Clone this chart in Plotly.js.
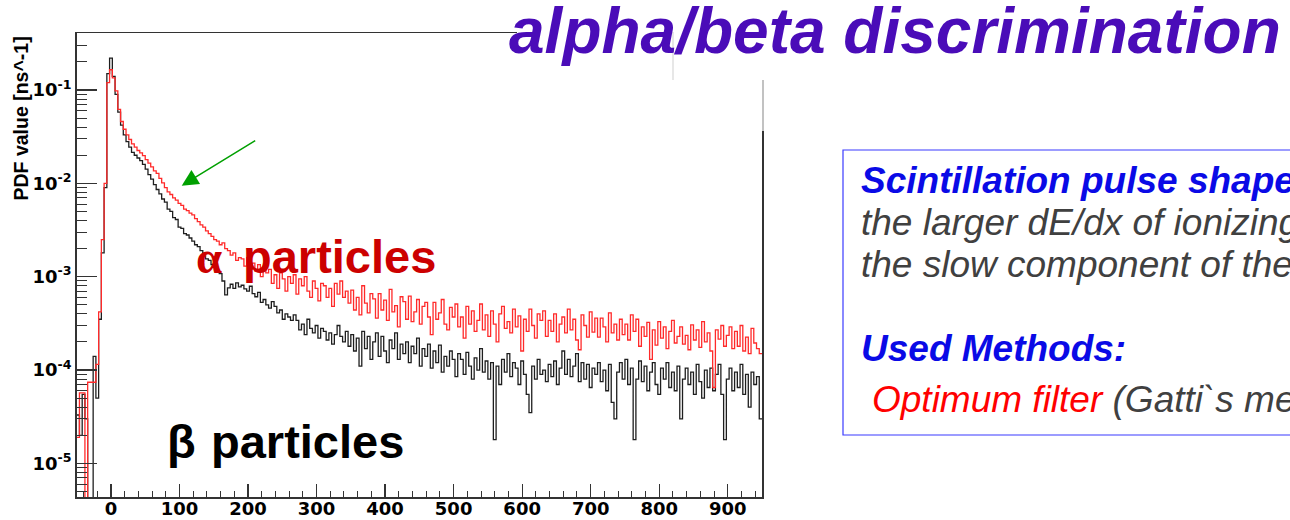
<!DOCTYPE html>
<html>
<head>
<meta charset="utf-8">
<script src="https://cdn.plot.ly/plotly-3.0.1.min.js"></script>
<style>html,body{margin:0;padding:0;background:#fff;}#chart{width:1290px;height:520px;}</style>
</head>
<body>
<div id="chart"></div>
<script>
// Histogram binning (time in ns)
const binStart = -50;
const binWidth = 4;

// beta particles PDF value [ns^-1], one value per 4 ns bin from -50 ns
const betaPdf = [
  3.3e-5, 2.0e-5, 5.5e-5, 3.0e-5, 1e-7, 1e-7, 1.4e-4, 5.0e-5, 3.5e-4, 1.8e-3,
  9.0e-3, 0.15, 0.22, 0.14, 0.09, 0.058, 0.042, 0.033, 0.028, 0.0245,
  0.0215, 0.0200, 0.0187, 0.0175, 0.0160, 0.0142, 0.0124, 0.0111, 0.0097, 0.0086,
  0.0077, 0.0068, 0.0063, 0.0053, 0.0050, 0.0043, 0.0041, 0.0034, 0.0033, 0.0029,
  0.0028, 0.0026, 0.0024, 0.0022, 0.0021, 0.0019, 0.0017, 0.00155, 0.0015, 0.00135,
  0.00128, 0.00112, 0.00108, 0.00090, 0.00064, 0.00076, 0.00083, 0.00075, 0.00086, 0.00078,
  8.1e-4, 7.4e-4, 7.0e-4, 7.9e-4, 6.6e-4, 6.1e-4, 6.8e-4, 5.3e-4, 5.7e-4, 5.0e-4,
  4.6e-4, 5.4e-4, 4.8e-4, 4.1e-4, 4.4e-4, 3.5e-4, 4.0e-4, 3.7e-4, 3.4e-4, 3.9e-4,
  3.4e-4, 2.7e-4, 3.1e-4, 2.4e-4, 3.5e-4, 2.8e-4, 2.5e-4, 3.0e-4, 2.2e-4, 2.8e-4,
  2.6e-4, 2.1e-4, 2.5e-4, 1.9e-4, 2.4e-4, 3.0e-4, 2.3e-4, 2.0e-4, 2.6e-4, 1.8e-4,
  2.4e-4, 1.6e-4, 2.2e-4, 1.1e-4, 2.6e-4, 1.7e-4, 2.3e-4, 1.3e-4, 2.0e-4, 2.5e-4,
  1.4e-4, 2.3e-4, 1.6e-4, 1.2e-4, 2.1e-4, 1.7e-4, 2.5e-4, 1.3e-4, 1.9e-4, 1.5e-4,
  2.0e-4, 1.2e-4, 1.8e-4, 1.5e-4, 2.2e-4, 1.1e-4, 1.7e-4, 1.4e-4, 1.9e-4, 1.05e-4,
  1.6e-4, 1.2e-4, 1.85e-4, 9.5e-5, 1.4e-4, 1.1e-4, 1.6e-4, 1.3e-4, 8.5e-5, 1.5e-4,
  1.3e-4, 9.0e-5, 1.55e-4, 1.1e-4, 8.0e-5, 1.35e-4, 1.0e-4, 1.7e-4, 9.5e-5, 1.25e-4,
  8.0e-5, 1.2e-4, 1.8e-5, 1.1e-4, 7.0e-5, 1.3e-4, 9.5e-5, 1.5e-4, 8.5e-5, 1.2e-4,
  1.05e-4, 7.0e-5, 1.25e-4, 9.0e-5, 5.5e-5, 3.5e-5, 1.1e-4, 8.0e-5, 1.3e-4, 9.0e-5,
  1.0e-4, 7.5e-5, 1.15e-4, 8.5e-5, 1.25e-4, 7.0e-5, 1.05e-4, 1.6e-4, 9.0e-5, 1.3e-4,
  8.5e-5, 1.1e-4, 1.5e-4, 7.5e-5, 1.2e-4, 8.0e-5, 1.15e-4, 6.5e-5, 1.05e-4, 9.0e-5,
  1.2e-4, 7.5e-5, 1.0e-4, 6.0e-5, 1.15e-4, 4.5e-5, 3.0e-5, 9.5e-5, 1.2e-4, 8.0e-5,
  1.3e-4, 7.0e-5, 1.05e-4, 1.8e-5, 8.0e-5, 1.25e-4, 7.5e-5, 1.1e-4, 6.0e-5, 9.5e-5,
  1.2e-4, 7.0e-5, 5.5e-5, 1.05e-4, 8.0e-5, 1.2e-4, 6.5e-5, 9.5e-5, 6.0e-5, 1.1e-4,
  3.0e-5, 8.0e-5, 1.05e-4, 7.0e-5, 9.5e-5, 5.5e-5, 1.15e-4, 7.5e-5, 5.0e-5, 1.0e-4,
  6.5e-5, 1.05e-4, 6.0e-5, 9.0e-5, 1.15e-4, 5.5e-5, 1.8e-5, 8.0e-5, 1.05e-4, 6.0e-5,
  9.5e-5, 6.5e-5, 1.15e-4, 5.5e-5, 9.0e-5, 4.0e-5, 9.5e-5, 7.0e-5, 8.5e-5, 3.0e-5
];

// alpha particles PDF value [ns^-1], one value per 4 ns bin from -50 ns
const alphaPdf = [
  1.9e-5, 5.7e-5, 5.7e-5, 1e-7, 7.4e-5, 7.4e-5, 7.4e-5, 1.15e-4, 4.2e-4, 2.5e-3,
  1.0e-2, 0.12, 0.165, 0.135, 0.098, 0.062, 0.046, 0.038, 0.033, 0.0295,
  0.0265, 0.0245, 0.0225, 0.0212, 0.0198, 0.0180, 0.0165, 0.0150, 0.0136, 0.0128,
  0.0113, 0.0101, 0.0090, 0.0081, 0.0076, 0.0070, 0.0066, 0.0061, 0.0058, 0.0053,
  0.0051, 0.0048, 0.0046, 0.0042, 0.0039, 0.0036, 0.0034, 0.0031, 0.0029, 0.0027,
  0.0025, 0.0024, 0.0022, 0.0023, 0.0020, 0.0019, 0.0017, 0.0018, 0.0015, 0.0016,
  1.55e-3, 1.3e-3, 1.6e-3, 1.2e-3, 1.4e-3, 1.15e-3, 1.35e-3, 1.0e-3, 1.2e-3, 1.1e-3,
  1.2e-3, 8.5e-4, 1.05e-3, 7.5e-4, 1.1e-3, 9.5e-4, 7.0e-4, 1.0e-3, 8.5e-4, 1.05e-3,
  6.5e-4, 9.5e-4, 8.0e-4, 1.0e-3, 7.0e-4, 6.0e-4, 9.0e-4, 7.5e-4, 5.5e-4, 8.5e-4,
  8.0e-4, 6.0e-4, 7.5e-4, 4.8e-4, 8.5e-4, 6.5e-4, 9.0e-4, 6.0e-4, 7.0e-4, 5.2e-4,
  7.2e-4, 4.4e-4, 6.0e-4, 3.9e-4, 8.0e-4, 5.2e-4, 4.1e-4, 6.6e-4, 5.8e-4, 3.6e-4,
  6.6e-4, 4.4e-4, 5.6e-4, 3.4e-4, 7.3e-4, 4.2e-4, 4.9e-4, 2.9e-4, 6.1e-4, 5.4e-4,
  3.5e-4, 6.2e-4, 3.3e-4, 4.2e-4, 5.7e-4, 3.1e-4, 4.8e-4, 5.3e-4, 3.7e-4, 2.4e-4,
  5.3e-4, 3.5e-4, 4.1e-4, 5.7e-4, 3.1e-4, 2.7e-4, 4.7e-4, 3.7e-4, 5.1e-4, 2.9e-4,
  3.7e-4, 2.2e-4, 4.8e-4, 3.1e-4, 4.3e-4, 2.6e-4, 3.4e-4, 5.1e-4, 2.7e-4, 3.9e-4,
  2.3e-4, 4.3e-4, 3.1e-4, 2.0e-4, 4.0e-4, 4.8e-4, 2.8e-4, 3.3e-4, 2.5e-4, 4.5e-4,
  2.9e-4, 3.8e-4, 1.6e-4, 3.5e-4, 2.6e-4, 4.5e-4, 3.0e-4, 2.2e-4, 4.0e-4, 3.4e-4,
  4.3e-4, 2.3e-4, 3.4e-4, 2.6e-4, 4.0e-4, 2.0e-4, 3.1e-4, 3.7e-4, 2.5e-4, 4.5e-4,
  2.7e-4, 3.5e-4, 2.1e-4, 1.65e-4, 3.9e-4, 3.0e-4, 2.25e-4, 4.2e-4, 2.55e-4, 3.6e-4,
  2.25e-4, 3.6e-4, 2.9e-4, 2.0e-4, 4.1e-4, 2.5e-4, 3.1e-4, 2.1e-4, 3.5e-4, 2.4e-4,
  3.1e-4, 2.1e-4, 3.9e-4, 2.6e-4, 3.5e-4, 1.8e-4, 2.9e-4, 2.3e-4, 3.25e-4, 1.3e-4,
  2.7e-4, 1.85e-4, 3.3e-4, 2.2e-4, 2.9e-4, 1.7e-4, 2.6e-4, 3.4e-4, 1.95e-4, 2.3e-4,
  2.9e-4, 1.9e-4, 2.35e-4, 1.65e-4, 3.05e-4, 2.1e-4, 2.7e-4, 1.75e-4, 3.3e-4, 2.0e-4,
  2.5e-4, 1.6e-4, 6.5e-5, 2.7e-4, 2.15e-4, 3.0e-4, 1.8e-4, 2.35e-4, 2.9e-4, 1.7e-4,
  2.6e-4, 1.8e-4, 3.0e-4, 1.6e-4, 2.25e-4, 1.5e-4, 2.8e-4, 1.95e-4, 1.7e-4, 1.5e-4
];

const xTickVals = [0, 100, 200, 300, 400, 500, 600, 700, 800, 900];
const xTickText = ['0', '100', '200', '300', '400', '500', '600', '700', '800', '900'];
const yTickVals = [1e-5, 1e-4, 1e-3, 1e-2, 1e-1];
const yTickText = ['10<sup>-5</sup>', '10<sup>-4</sup>', '10<sup>-3</sup>', '10<sup>-2</sup>', '10<sup>-1</sup>'];
const chartTitle = 'alpha/beta discrimination';
const yAxisLabel = 'PDF value [ns^-1]';
const boxLines = [
  'Scintillation pulse shape',
  'the larger dE/dx of ionizing',
  'the slow component of the',
  'Used Methods:'
];
const methodName = 'Optimum filter';
const methodNote = '(Gatti`s method)';

function stepXY(vals) {
  const xs = [], ys = [];
  for (let i = 0; i < vals.length; i++) { xs.push(binStart + i * binWidth); ys.push(vals[i]); }
  xs.push(binStart + vals.length * binWidth); ys.push(vals[vals.length - 1]);
  return {xs, ys};
}
const b = stepXY(betaPdf), a = stepXY(alphaPdf);

const W = 1290, H = 520;
const px = v => v / W;
const py = v => (H - v) / H;

const traces = [
  {x: b.xs, y: b.ys, type: 'scatter', mode: 'lines', line: {shape: 'hv', color: '#1e1e1e', width: 1.3}, name: 'β particles', showlegend: false, hoverinfo: 'skip'},
  {x: a.xs, y: a.ys, type: 'scatter', mode: 'lines', line: {shape: 'hv', color: '#ff2a2a', width: 1.3}, name: 'α particles', showlegend: false, hoverinfo: 'skip'}
];

const tickFont = {family: 'DejaVu Sans', size: 18, color: '#000', weight: 'bold'};
const boxFont = (color, bold) => ({family: 'Liberation Sans', size: 37, color: color, weight: bold ? 'bold' : 'normal', style: 'italic'});

const layout = {
  width: W, height: H,
  margin: {l: 0, r: 0, t: 0, b: 0, pad: 0},
  paper_bgcolor: '#fff', plot_bgcolor: '#fff',
  showlegend: false,
  title: {
    text: chartTitle, xref: 'paper', yref: 'paper', x: px(509), xanchor: 'left', y: py(30.6), yanchor: 'middle',
    font: {family: 'Liberation Sans', size: 64, color: '#4a0cb8', weight: 'bold', style: 'italic'}
  },
  xaxis: {
    domain: [px(76.7), px(762)], range: [-50, 950],
    tickmode: 'array', tickvals: xTickVals, ticktext: xTickText.map(t => '<b>' + t + '</b>'),
    ticks: 'inside', ticklen: 13, tickwidth: 1.2, tickcolor: '#333',
    showline: true, linecolor: '#333', linewidth: 1.5, mirror: true,
    showgrid: false, zeroline: false, tickfont: tickFont, ticklabelstandoff: -5,
    minor: {dtick: 20, tick0: 0, ticks: 'inside', ticklen: 6, tickwidth: 1, tickcolor: '#333', showgrid: false}
  },
  yaxis: {
    type: 'log', domain: [py(497), py(33)], range: [-5.36, -0.389],
    tickmode: 'array', tickvals: yTickVals, ticktext: yTickText.map(t => '<b>' + t + '</b>'),
    ticks: 'inside', ticklen: 20, tickwidth: 1.2, tickcolor: '#333',
    showline: true, linecolor: '#333', linewidth: 1.5, mirror: true,
    showgrid: false, zeroline: false, tickfont: tickFont,
    minor: {dtick: 'D1', ticks: 'inside', ticklen: 10, tickwidth: 1, tickcolor: '#333', showgrid: false}
  },
  shapes: [
    {type: 'rect', xref: 'paper', yref: 'paper', x0: px(517), x1: 1.01, y0: py(80), y1: 1.01, fillcolor: '#fff', line: {width: 0}, layer: 'above'},
    {type: 'rect', xref: 'paper', yref: 'paper', x0: px(673), x1: 1.01, y0: py(131), y1: py(80), fillcolor: 'rgba(255,255,255,0.7)', line: {width: 0}, layer: 'above'},
    {type: 'line', xref: 'paper', yref: 'paper', x0: px(673), x1: px(673), y0: py(80), y1: py(32), line: {color: '#cfcfcf', width: 1}, layer: 'above'},
    {type: 'rect', xref: 'paper', yref: 'paper', x0: px(843), x1: 1.02, y0: py(435), y1: py(150), line: {color: '#3b3bff', width: 1.2}, fillcolor: 'rgba(0,0,0,0)', layer: 'above'}
  ],
  annotations: [
    {text: '<b>' + yAxisLabel + '</b>', xref: 'paper', yref: 'paper', x: px(21), y: py(118.5), textangle: -90, showarrow: false, xanchor: 'center', yanchor: 'middle',
     font: {family: 'Liberation Sans', size: 19.5, color: '#000', weight: 'bold'}},
    {text: '', xref: 'paper', yref: 'paper', x: px(181.7), y: py(185.7), ax: 75, ay: -46, showarrow: true,
     arrowhead: 2, arrowsize: 2.2, arrowwidth: 1.5, arrowcolor: '#00a000', standoff: 0},
    {text: 'α', xref: 'paper', yref: 'paper', x: px(194), y: py(256.5), xanchor: 'left', yanchor: 'middle', showarrow: false,
     font: {family: 'Liberation Serif', size: 47, color: '#cc0000', weight: 'bold'}},
    {text: 'particles', xref: 'paper', yref: 'paper', x: px(241), y: py(256.5), xanchor: 'left', yanchor: 'middle', showarrow: false,
     font: {family: 'Liberation Sans', size: 47, color: '#cc0000', weight: 'bold'}},
    {text: 'β', xref: 'paper', yref: 'paper', x: px(165), y: py(441.5), xanchor: 'left', yanchor: 'middle', showarrow: false,
     font: {family: 'Liberation Sans', size: 47, color: '#000', weight: 'bold'}},
    {text: 'particles', xref: 'paper', yref: 'paper', x: px(209), y: py(441.5), xanchor: 'left', yanchor: 'middle', showarrow: false,
     font: {family: 'Liberation Sans', size: 47, color: '#000', weight: 'bold'}},
    {text: boxLines[0], xref: 'paper', yref: 'paper', x: px(859), y: py(180.4), xanchor: 'left', yanchor: 'middle', showarrow: false, font: boxFont('#0a0ae6', true)},
    {text: boxLines[1], xref: 'paper', yref: 'paper', x: px(859), y: py(222.4), xanchor: 'left', yanchor: 'middle', showarrow: false, font: boxFont('#404040', false)},
    {text: boxLines[2], xref: 'paper', yref: 'paper', x: px(859), y: py(264.4), xanchor: 'left', yanchor: 'middle', showarrow: false, font: boxFont('#404040', false)},
    {text: boxLines[3], xref: 'paper', yref: 'paper', x: px(859), y: py(348.4), xanchor: 'left', yanchor: 'middle', showarrow: false, font: boxFont('#0a0ae6', true)},
    {text: '<span style="color:#ff0000">' + methodName + '</span> ' + methodNote, xref: 'paper', yref: 'paper', x: px(870), y: py(399.4), xanchor: 'left', yanchor: 'middle', showarrow: false, font: boxFont('#404040', false)}
  ]
};

Plotly.newPlot('chart', traces, layout, {staticPlot: true, displayModeBar: false});
</script>
</body>
</html>
